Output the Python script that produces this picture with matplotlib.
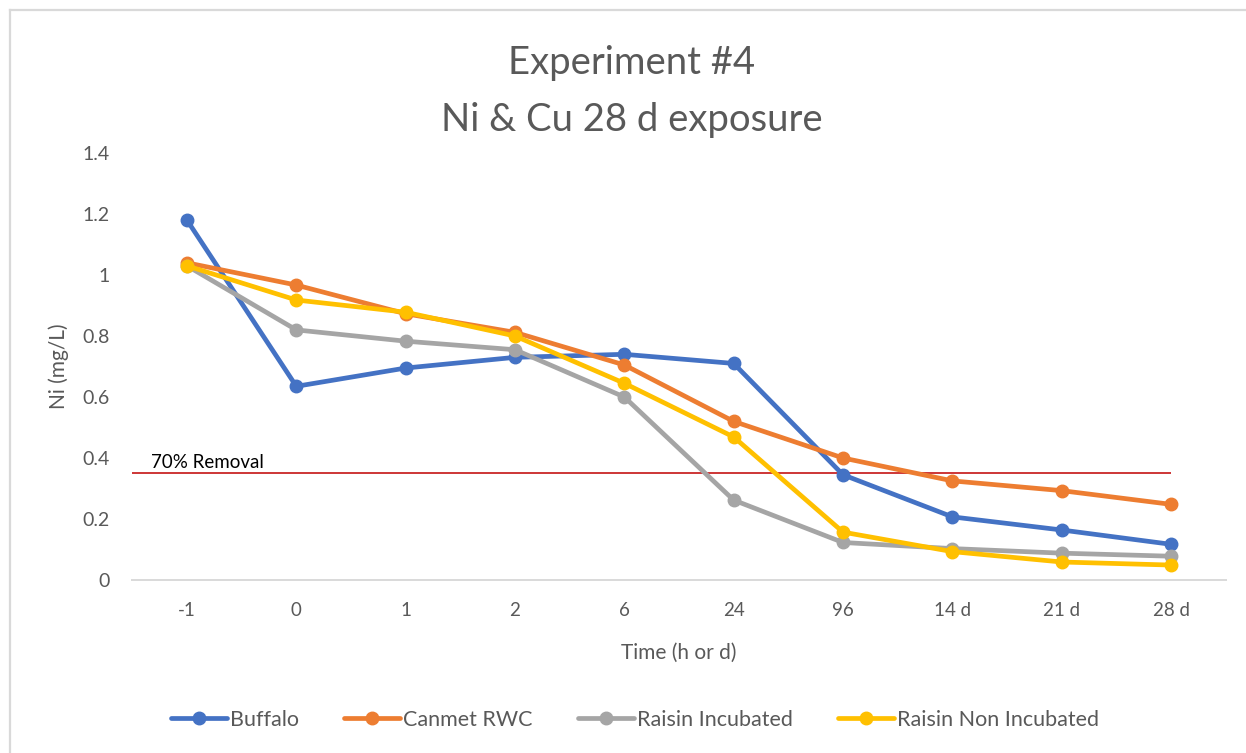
import matplotlib
matplotlib.use("Agg")
import matplotlib.pyplot as plt
from matplotlib.lines import Line2D

# Sampling times (category axis)
time_labels = ["-1", "0", "1", "2", "6", "24", "96", "14 d", "21 d", "28 d"]

# Ni concentration (mg/L) per treatment
buffalo = [1.18, 0.635, 0.695, 0.73, 0.74, 0.71, 0.345, 0.207, 0.164, 0.117]
canmet_rwc = [1.04, 0.967, 0.873, 0.812, 0.705, 0.52, 0.40, 0.325, 0.293, 0.248]
raisin_incubated = [1.03, 0.82, 0.783, 0.755, 0.60, 0.262, 0.123, 0.103, 0.088, 0.078]
raisin_non_incubated = [1.03, 0.918, 0.878, 0.80, 0.645, 0.469, 0.157, 0.093, 0.059, 0.049]

series_names = ["Buffalo", "Canmet RWC", "Raisin Incubated", "Raisin Non Incubated"]
series_colors = ["#4472C4", "#ED7D31", "#A5A5A5", "#FFC000"]

removal_level = 0.35
removal_label = "70% Removal"
y_ticks = [0, 0.2, 0.4, 0.6, 0.8, 1.0, 1.2, 1.4]

plt.rcParams["font.family"] = ["Lato", "DejaVu Sans"]
text_grey = "#595959"

fig = plt.figure(figsize=(12.46, 7.53), dpi=100)
W, H = 1246, 753

# light frame on the top and left edges
fig.add_artist(Line2D([10 / W, 1], [1 - 10 / H, 1 - 10 / H], transform=fig.transFigure,
                      color="#D9D9D9", lw=1.6))
fig.add_artist(Line2D([10 / W, 10 / W], [0, 1 - 10 / H], transform=fig.transFigure,
                      color="#D9D9D9", lw=1.6))

ax = fig.add_axes([132.3 / W, (H - 580) / H, (1225.7 - 132.3) / W, (580 - 153) / H])

x = list(range(len(time_labels)))
all_series = [buffalo, canmet_rwc, raisin_incubated, raisin_non_incubated]
for vals, name, col in zip(all_series, series_names, series_colors):
    ax.plot(x, vals, color=col, lw=3.4, marker="o", markersize=9,
            label=name, solid_joinstyle="round", solid_capstyle="round")

ax.hlines(removal_level, -0.52, len(time_labels) - 1, color="#C00000", lw=1.1, zorder=1)
ax.text(-0.33, removal_level + 0.008, removal_label, fontsize=13.5, color="#000000",
        va="bottom", ha="left")

ax.set_xlim(-0.5, len(time_labels) - 0.5)
ax.set_ylim(0, 1.4)
ax.set_xticks(x)
ax.set_xticklabels(time_labels)
ax.set_yticks(y_ticks)
ax.set_yticklabels([f"{v:g}" for v in y_ticks])
ax.tick_params(axis="x", length=0, labelsize=13.5, colors=text_grey, pad=16)
ax.tick_params(axis="y", length=0, labelsize=14, colors=text_grey, pad=16)

for side in ["top", "right", "left"]:
    ax.spines[side].set_visible(False)
ax.spines["bottom"].set_color("#D9D9D9")
ax.spines["bottom"].set_linewidth(1.4)

ax.set_xlabel("Time (h or d)", fontsize=15, color=text_grey, labelpad=17)
ax.set_ylabel("Ni (mg/L)", fontsize=15, color=text_grey, labelpad=10)

fig.text(632 / W, 1 - 63 / H, "Experiment #4", fontsize=27.5, color=text_grey,
         ha="center", va="center")
fig.text(632 / W, 1 - 120 / H, "Ni & Cu 28 d exposure", fontsize=27.5, color=text_grey,
         ha="center", va="center")

handles, labels = ax.get_legend_handles_labels()
leg = fig.legend(handles, labels, loc="center", bbox_to_anchor=(635 / W, 33 / H),
                 ncol=4, frameon=False, fontsize=15.5, handlelength=2.6,
                 handletextpad=0.15, columnspacing=2.1)
for t in leg.get_texts():
    t.set_color(text_grey)

fig.savefig("out.png", dpi=100, facecolor="white")
